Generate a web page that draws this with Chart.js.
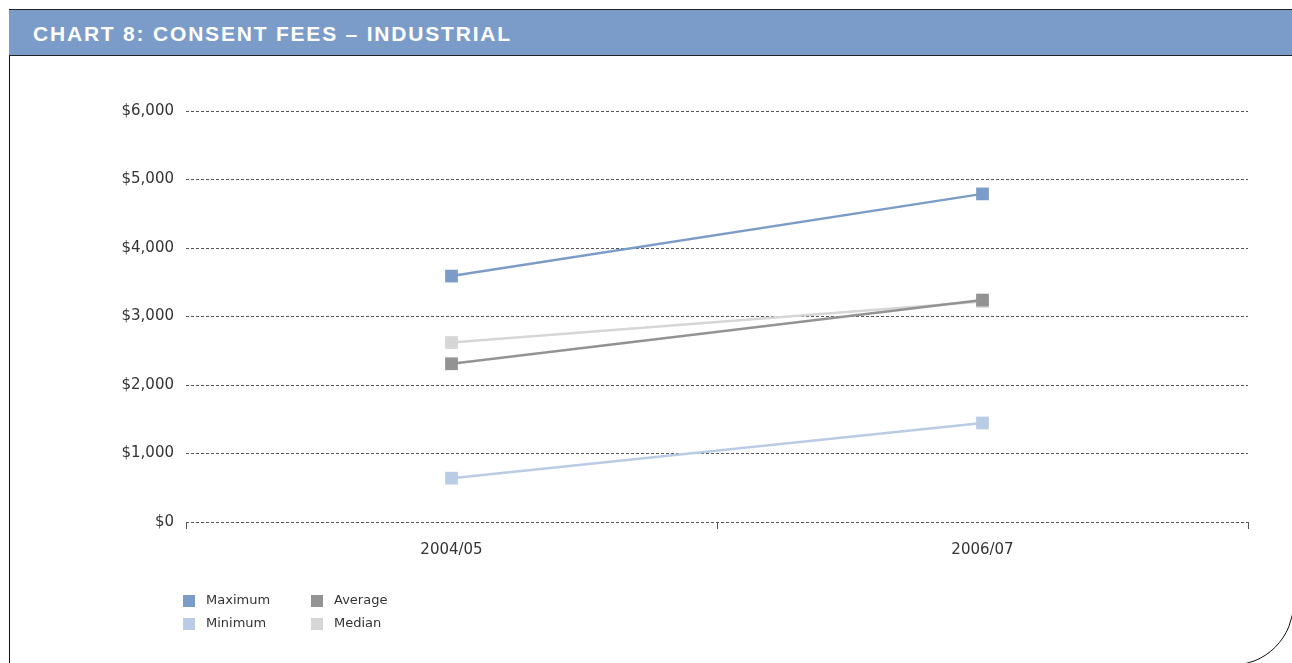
<!DOCTYPE html>
<html>
<head>
<meta charset="utf-8">
<script src="https://cdn.jsdelivr.net/npm/chart.js@4"></script>
<style>
  html, body { margin: 0; padding: 0; background: #fff; }
  body { width: 1292px; height: 663px; position: relative; overflow: hidden; font-family: "Liberation Sans", Arial, sans-serif; }
  .frame {
    position: absolute; left: 9px; top: 9px; width: 1285px; height: 657px;
    border: 1.5px solid #111; border-bottom-right-radius: 63px; box-sizing: border-box;
  }
  .header {
    position: absolute; left: 9px; top: 9px; width: 1290px; height: 47px;
    background: #7b9cc8; border-top: 1.5px solid #222; border-bottom: 1.5px solid #222; box-sizing: border-box;
    color: #fff; font-weight: bold; font-size: 21px; letter-spacing: 1.8px;
    line-height: 48px; padding-left: 24px;
  }
  #wrap { position: absolute; left: 0; top: 0; width: 1292px; height: 663px; }
  .legend { position: absolute; left: 183px; top: 592px; font-family: "DejaVu Sans", sans-serif; font-size: 13px; color: #333; }
  .legend .item { position: absolute; white-space: nowrap; }
  .legend .sw { position: absolute; width: 12px; height: 12px; top: 3px; left: 0; }
  .legend .lb { position: absolute; left: 23px; top: 0; }
</style>
</head>
<body>
<div class="frame"></div>
<div class="header">CHART 8: CONSENT FEES – INDUSTRIAL</div>
<div id="wrap"><canvas id="feesChart" width="1292" height="663"></canvas></div>
<div class="legend" id="legend"></div>
<script>
// Consent fees, industrial
const periods = ["2004/05", "2006/07"];
const maximum = [3590, 4790];
const minimum = [640, 1445];
const average = [2310, 3240];
const median = [2620, 3220];
const yTicks = [0, 1000, 2000, 3000, 4000, 5000, 6000];

const seriesNames = ["Maximum", "Minimum", "Average", "Median"];
const seriesColors = ["#7b9cc8", "#bacce5", "#939393", "#d6d6d6"];

function makeSet(name, values, color, order) {
  return {
    label: name,
    data: values,
    borderColor: color,
    backgroundColor: color,
    borderWidth: 2.5,
    pointStyle: 'rect',
    pointRadius: 9,
    pointHoverRadius: 9,
    pointBorderWidth: 0,
    fill: false,
    order: order
  };
}

const tickFont = { family: '"DejaVu Sans", sans-serif', size: 15 };

const feesCtx = document.getElementById('feesChart').getContext('2d');

const feesChart = new Chart(feesCtx, {
  type: 'line',
  data: {
    labels: periods,
    datasets: [
      makeSet(seriesNames[0], maximum, seriesColors[0], 1),
      makeSet(seriesNames[1], minimum, seriesColors[1], 2),
      makeSet(seriesNames[2], average, seriesColors[2], 3),
      makeSet(seriesNames[3], median, seriesColors[3], 4)
    ]
  },
  options: {
    responsive: false,
    maintainAspectRatio: false,
    animation: false,
    layout: { padding: { top: 111, right: 44, bottom: 91, left: 0 } },
    plugins: {
      legend: { display: false },
      tooltip: { enabled: false }
    },
    scales: {
      x: {
        offset: true,
        afterFit: function (scale) { scale.height = 50; },
        grid: {
          offset: true,
          drawOnChartArea: false,
          drawTicks: true,
          tickLength: 7,
          color: '#555',
          lineWidth: 1
        },
        border: { display: false },
        ticks: {
          padding: 12,
          color: '#333',
          font: tickFont
        }
      },
      y: {
        min: 0,
        max: 6000,
        afterFit: function (scale) { scale.width = 186; },
        afterBuildTicks: function (scale) { scale.ticks = yTicks.map(v => ({ value: v })); },
        grid: {
          drawTicks: false,
          color: '#555',
          lineWidth: 1
        },
        border: { display: false, dash: [3, 2] },
        ticks: {
          padding: 12,
          color: '#333',
          font: tickFont,
          callback: function (v) { return '$' + v.toLocaleString('en-US'); }
        }
      }
    }
  }
});

// legend (2 x 2) from datasets
const legendEl = document.getElementById('legend');
const legendPos = [[0, 0], [0, 23], [128, 0], [128, 23]];
feesChart.data.datasets.forEach(function (ds, i) {
  const item = document.createElement('div');
  item.className = 'item';
  item.style.left = legendPos[i][0] + 'px';
  item.style.top = legendPos[i][1] + 'px';
  item.innerHTML = '<span class="sw" style="background:' + ds.borderColor + '"></span><span class="lb">' + ds.label + '</span>';
  legendEl.appendChild(item);
});
</script>
</body>
</html>
